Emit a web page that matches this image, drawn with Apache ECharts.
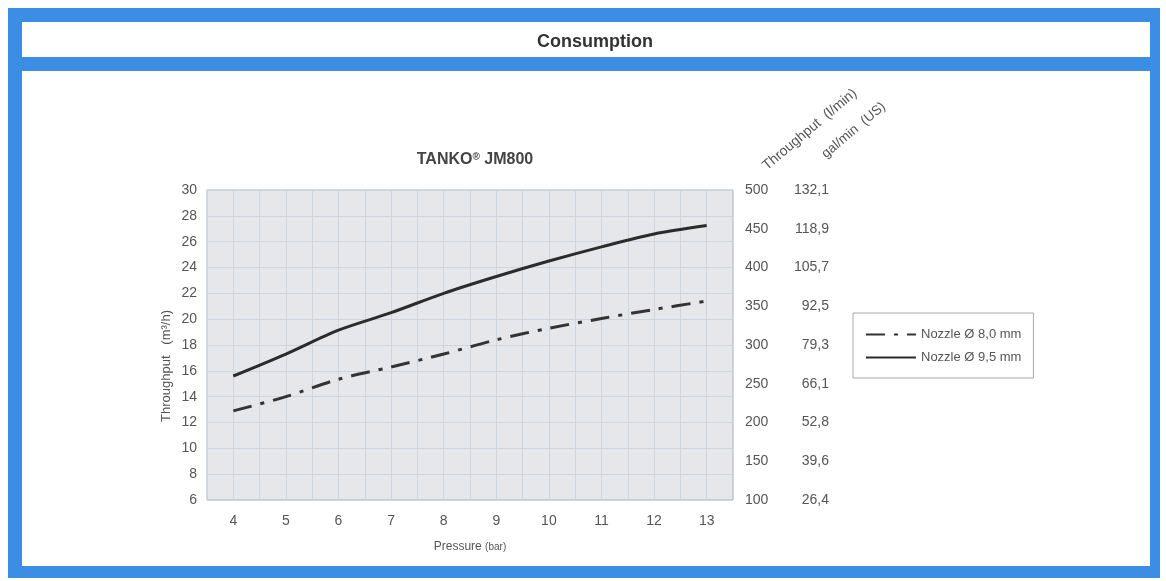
<!DOCTYPE html>
<html>
<head>
<meta charset="utf-8">
<script src="https://cdn.jsdelivr.net/npm/echarts@6/dist/echarts.min.js"></script>
<style>
  html, body { margin: 0; padding: 0; background: #fff; }
  #chart { width: 1166px; height: 581px; }
</style>
</head>
<body>
<div id="chart"></div>
<script>
// pressure in bar
const pressure = [4, 5, 6, 7, 8, 9, 10, 11, 12, 13];
// throughput m3/h
const nozzle80 = [12.9, 14.0, 15.35, 16.3, 17.3, 18.4, 19.3, 20.05, 20.75, 21.4];
const nozzle95 = [15.6, 17.3, 19.15, 20.5, 22.0, 23.3, 24.5, 25.6, 26.6, 27.25];
// right hand tick labels (l/min axis runs 100..500)
const galLabels = ["26,4", "39,6", "52,8", "66,1", "79,3", "92,5", "105,7", "118,9", "132,1"];

const blue = "#3b8ee4";
const font = "'Liberation Sans', Arial, sans-serif";
const grey = "#555";

let chart = echarts.init(document.getElementById("chart"));

let option = {
  backgroundColor: "#fff",
  textStyle: { fontFamily: font },
  animation: false,
  title: [
    {
      text: "Consumption",
      left: 590,
      top: 28,
      textAlign: "center",
      textStyle: {
        fontFamily: "'Liberation Sans Narrow', " + font,
        fontWeight: "bold",
        fontSize: 18,
        color: "#333",
      },
    },
    {
      text: "TANKO{s|®} JM800",
      left: 470,
      top: 147,
      textAlign: "center",
      textStyle: {
        fontWeight: "bold",
        fontSize: 16,
        color: "#444",
        rich: {
          s: { fontSize: 10, fontWeight: "bold", color: "#444", verticalAlign: "top", padding: [0, 0, 6, 0] },
        },
      },
    },
  ],
  graphic: [
    { type: "rect", z: -10, shape: { x: 8, y: 8, width: 1152, height: 570 }, style: { fill: blue } },
    { type: "rect", z: -9, shape: { x: 22, y: 22, width: 1128, height: 35 }, style: { fill: "#fff" } },
    { type: "rect", z: -9, shape: { x: 22, y: 71, width: 1128, height: 495 }, style: { fill: "#fff" } },
    {
      type: "text",
      x: 769,
      y: 173,
      rotation: (40 * Math.PI) / 180,
      style: { text: "Throughput  (l/min)", fill: grey, fontSize: 14, fontFamily: font, textAlign: "left", textVerticalAlign: "bottom" },
    },
    {
      type: "text",
      x: 828,
      y: 161,
      rotation: (40 * Math.PI) / 180,
      style: { text: "gal/min  (US)", fill: grey, fontSize: 13.5, fontFamily: font, textAlign: "left", textVerticalAlign: "bottom" },
    },
  ],
  legend: {
    left: 853,
    top: 313,
    orient: "vertical",
    padding: [15, 12, 14, 12],
    itemGap: 10,
    itemWidth: 50,
    itemHeight: 14,
    borderColor: "#aaa",
    borderWidth: 1,
    backgroundColor: "#fff",
    itemStyle: { opacity: 0 },
    textStyle: { color: grey, fontSize: 13, fontFamily: font },
    data: ["Nozzle Ø 8,0 mm", "Nozzle Ø 9,5 mm"],
  },
  grid: {
    left: 207,
    right: 433,
    top: 190,
    bottom: 81,
    show: true,
    backgroundColor: "#e5e7eb",
    borderColor: "#aab0b6",
    borderWidth: 1,
  },
  xAxis: {
    type: "value",
    min: 3.5,
    max: 13.5,
    interval: 0.5,
    name: "{a|Pressure} {b|(bar)}",
    nameLocation: "middle",
    nameGap: 41,
    nameTextStyle: {
      rich: {
        a: { fontSize: 12, color: grey, fontFamily: font },
        b: { fontSize: 10, color: grey, fontFamily: font },
      },
    },
    axisLine: { show: false },
    axisTick: { show: false },
    axisLabel: {
      color: grey,
      fontSize: 14,
      margin: 14,
      formatter: function (v) {
        return Number.isInteger(v) ? String(v) : "";
      },
    },
    splitLine: { show: true, lineStyle: { color: "#cfd5dc", width: 1 } },
  },
  yAxis: [
    {
      type: "value",
      position: "left",
      min: 6,
      max: 30,
      interval: 2,
      name: "Throughput   (m³/h)",
      nameLocation: "middle",
      nameGap: 34,
      nameTextStyle: { color: grey, fontSize: 13, padding: [0, 42, 0, 0] },
      axisLine: { show: false },
      axisTick: { show: false },
      axisLabel: { color: grey, fontSize: 14, margin: 10 },
      splitLine: { show: true, lineStyle: { color: "#cfd5dc", width: 1 } },
    },
    {
      type: "value",
      position: "right",
      min: 100,
      max: 500,
      interval: 50,
      axisLine: { show: false },
      axisTick: { show: false },
      axisLabel: { color: grey, fontSize: 14, margin: 12 },
      splitLine: { show: false },
    },
    {
      type: "value",
      position: "right",
      min: 100,
      max: 500,
      interval: 50,
      axisLine: { show: false },
      axisTick: { show: false },
      axisLabel: {
        color: grey,
        fontSize: 14,
        margin: 96,
        align: "right",
        formatter: function (v) {
          return galLabels[Math.round((v - 100) / 50)];
        },
      },
      splitLine: { show: false },
    },
  ],
  series: [
    {
      name: "Nozzle Ø 8,0 mm",
      type: "line",
      yAxisIndex: 0,
      smooth: 0.3,
      symbol: "none",
      lineStyle: { color: "#333", width: 3, type: [19, 9, 4, 9] },
      itemStyle: { color: "#333" },
      data: pressure.map((p, i) => [p, nozzle80[i]]),
    },
    {
      name: "Nozzle Ø 9,5 mm",
      type: "line",
      yAxisIndex: 0,
      smooth: 0.3,
      symbol: "none",
      lineStyle: { color: "#2b2b2b", width: 3 },
      itemStyle: { color: "#2b2b2b" },
      data: pressure.map((p, i) => [p, nozzle95[i]]),
    },
  ],
};

chart.setOption(option);
window.addEventListener("resize", () => chart.resize());
</script>
</body>
</html>
